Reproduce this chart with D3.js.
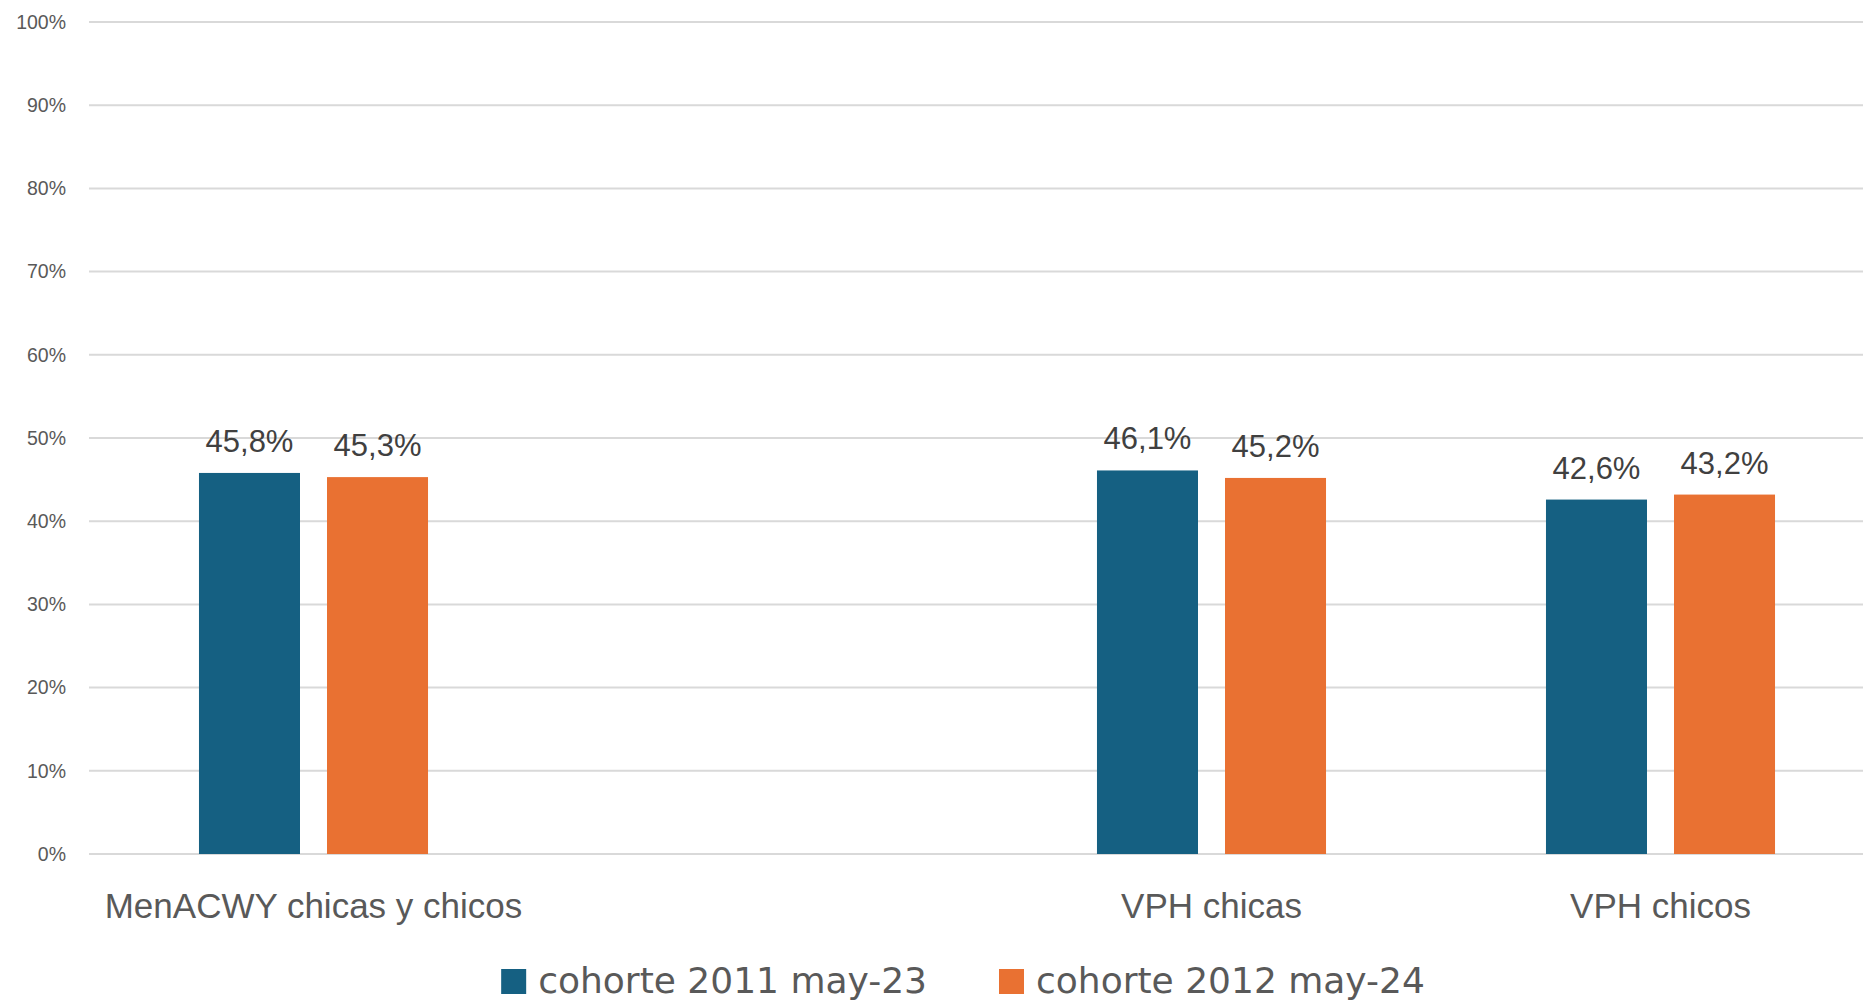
<!DOCTYPE html>
<html>
<head>
<meta charset="utf-8">
<script src="https://cdn.jsdelivr.net/npm/d3@7"></script>
<style>
  body { margin: 0; background: #fff; }
  svg { display: block; }
</style>
</head>
<body>
<div id="chart"></div>
<script>
// Categories (the second slot is empty in the original chart)
var categories = ["MenACWY chicas y chicos", "", "VPH chicas", "VPH chicos"];
var seriesNames = ["cohorte 2011 may-23", "cohorte 2012 may-24"];
var cohorte2011 = [0.458, null, 0.461, 0.426];
var cohorte2012 = [0.453, null, 0.452, 0.432];
var yTicks = [0, 0.1, 0.2, 0.3, 0.4, 0.5, 0.6, 0.7, 0.8, 0.9, 1];

var colors = ["#156082", "#E97132"];
var width = 1863, height = 1003;
var margin = {left: 89, top: 22, bottom: 149};

var es = d3.formatLocale({decimal: ",", thousands: ".", grouping: [3], currency: ["", " €"]});
var fmtVal = es.format(".1%"), fmtTick = es.format(".0%");

var svg = d3.select("#chart").append("svg")
    .attr("width", width).attr("height", height);

// x: 4 slots of ~449px, the last slot runs past the picture edge
var x0 = d3.scaleBand().domain(d3.range(categories.length))
    .range([margin.left, 1885]).paddingInner(0).paddingOuter(0);
var x1 = d3.scaleBand().domain([0, 1])
    .range([0, x0.bandwidth()]).paddingInner(0.211).paddingOuter(0.859);
var y = d3.scaleLinear().domain([0, 1]).range([height - margin.bottom, margin.top]);

// gridlines + y tick labels
var yAxis = svg.append("g").attr("class", "y-axis");
yAxis.selectAll("line").data(yTicks).enter().append("line")
    .attr("x1", margin.left).attr("x2", width)
    .attr("y1", d => y(d)).attr("y2", d => y(d))
    .attr("stroke", "#d9d9d9").attr("stroke-width", 2);
yAxis.selectAll("text").data(yTicks).enter().append("text")
    .attr("x", 66).attr("y", d => y(d)).attr("dy", "0.35em")
    .attr("text-anchor", "end")
    .style("font-family", "Liberation Sans, Arial, sans-serif")
    .style("font-size", "19.5px").style("fill", "#595959")
    .text(d => fmtTick(d));

// bars
var series = [cohorte2011, cohorte2012];
var rows = [];
series.forEach(function(vals, s) {
  vals.forEach(function(v, i) { if (v != null) rows.push({s: s, i: i, v: v}); });
});

svg.append("g").selectAll("rect").data(rows).enter().append("rect")
    .attr("x", d => x0(d.i) + x1(d.s))
    .attr("width", x1.bandwidth())
    .attr("y", d => y(d.v))
    .attr("height", d => y(0) - y(d.v))
    .attr("fill", d => colors[d.s]);

svg.append("g").selectAll("text").data(rows).enter().append("text")
    .attr("x", d => x0(d.i) + x1(d.s) + x1.bandwidth() / 2)
    .attr("y", d => y(d.v) - 21)
    .attr("text-anchor", "middle")
    .style("font-family", "Liberation Sans, Arial, sans-serif")
    .style("font-size", "31px").style("fill", "#404040")
    .text(d => fmtVal(d.v));

// category labels
svg.append("g").selectAll("text").data(categories).enter().append("text")
    .attr("x", (d, i) => x0(i) + x0.bandwidth() / 2)
    .attr("y", 918)
    .attr("text-anchor", "middle")
    .style("font-family", "Liberation Sans, Arial, sans-serif")
    .style("font-size", "35px").style("fill", "#595959")
    .text(d => d);

// legend, centred on the full (uncropped) chart width
var legend = svg.append("g");
var items = legend.selectAll("g").data(seriesNames).enter().append("g");
items.append("rect").attr("width", 25).attr("height", 25).attr("y", 969)
    .attr("fill", (d, i) => colors[i]);
items.append("text").attr("x", 37).attr("y", 993)
    .style("font-family", "DejaVu Sans, sans-serif")
    .style("font-size", "36px").style("fill", "#595959")
    .text(d => d);

var widths = [];
items.each(function() { widths.push(37 + d3.select(this).select("text").node().getComputedTextLength()); });
var gap = 72, total = d3.sum(widths) + gap * (widths.length - 1);
var cx = 963, start = cx - total / 2;
items.attr("transform", function(d, i) {
  var off = start + d3.sum(widths.slice(0, i)) + gap * i;
  return "translate(" + off + ",0)";
});
</script>
</body>
</html>
